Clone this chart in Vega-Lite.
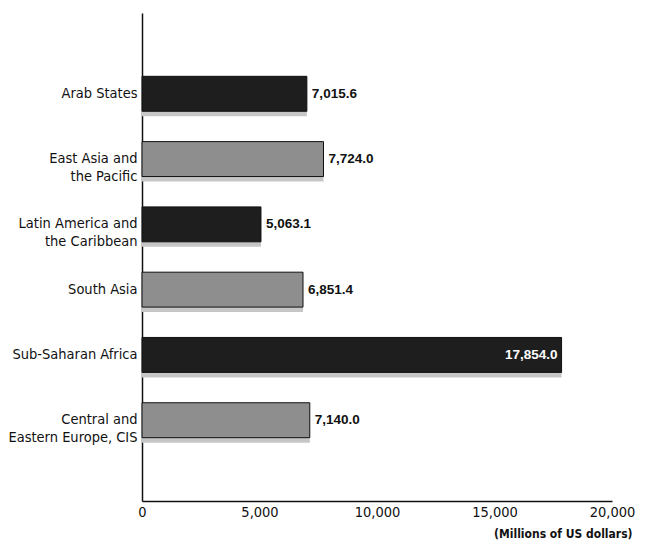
{
  "$schema": "https://vega.github.io/schema/vega-lite/v6.json",
  "width": 470,
  "height": 488,
  "autosize": {"type": "none"},
  "padding": {"left": 142, "top": 13, "right": 33, "bottom": 40},
  "background": "white",
  "config": {
    "view": {"stroke": null},
    "axis": {"domainColor": "#111111", "domainWidth": 1.5, "domainOpacity": 1}
  },
  "data": {
    "values": [
      {"region": "Arab States", "value": 7015.6},
      {"region": "East Asia and\nthe Pacific", "value": 7724.0},
      {"region": "Latin America and\nthe Caribbean", "value": 5063.1},
      {"region": "South Asia", "value": 6851.4},
      {"region": "Sub-Saharan Africa", "value": 17854.0},
      {"region": "Central and\nEastern Europe, CIS", "value": 7140.0}
    ]
  },
  "encoding": {
    "y": {
      "field": "region",
      "type": "nominal",
      "sort": null,
      "scale": {"paddingInner": 0.465, "paddingOuter": 0.97},
      "axis": {
        "title": null,
        "domain": true,
        "ticks": false,
        "labelPadding": 5,
        "labelFont": "'Liberation Sans Narrow', 'DejaVu Sans Condensed', sans-serif",
        "labelFontSize": 14.5,
        "labelColor": "#111111",
        "labelLineHeight": 18,
        "labelLimit": 200,
        "labelExpr": "split(datum.label, '\\n')"
      }
    },
    "x": {
      "field": "value",
      "type": "quantitative",
      "scale": {"domain": [0, 20000], "nice": false},
      "axis": {
        "values": [0, 5000, 10000, 15000, 20000],
        "format": ",.0f",
        "grid": false,
        "ticks": false,
        "domain": true,
        "labelPadding": 4,
        "labelFlush": false,
        "labelOverlap": false,
        "labelFont": "'Liberation Sans Narrow', 'DejaVu Sans Condensed', sans-serif",
        "labelFontSize": 14.5,
        "labelColor": "#111111",
        "title": "(Millions of US dollars)",
        "titleFont": "'Liberation Sans Narrow', 'DejaVu Sans Condensed', sans-serif",
        "titleFontSize": 12,
        "titleFontWeight": "bold",
        "titleColor": "#111111",
        "titleAnchor": "end",
        "titleAlign": "right",
        "titleBaseline": "alphabetic",
        "titleX": 490,
        "titleY": 36
      }
    }
  },
  "layer": [
    {
      "mark": {"type": "bar", "yOffset": 5, "color": "#c6c6c6"}
    },
    {
      "mark": {"type": "bar", "stroke": "#111111", "strokeWidth": 1},
      "encoding": {
        "color": {
          "field": "region",
          "type": "nominal",
          "sort": null,
          "scale": {"range": ["#1e1e1e", "#8e8e8e", "#1e1e1e", "#8e8e8e", "#1e1e1e", "#8e8e8e"]},
          "legend": null
        }
      }
    },
    {
      "transform": [{"filter": "datum.value < 15000"}],
      "mark": {
        "type": "text",
        "align": "left",
        "baseline": "middle",
        "dx": 5,
        "font": "'Liberation Sans', Arial, sans-serif",
        "fontSize": 13.5,
        "fontWeight": "bold",
        "color": "#111111"
      },
      "encoding": {"text": {"field": "value", "type": "quantitative", "format": ",.1f"}}
    },
    {
      "transform": [{"filter": "datum.value >= 15000"}],
      "mark": {
        "type": "text",
        "align": "right",
        "baseline": "middle",
        "dx": -4,
        "font": "'Liberation Sans', Arial, sans-serif",
        "fontSize": 13.5,
        "fontWeight": "bold",
        "color": "#ffffff"
      },
      "encoding": {"text": {"field": "value", "type": "quantitative", "format": ",.1f"}}
    }
  ]
}
